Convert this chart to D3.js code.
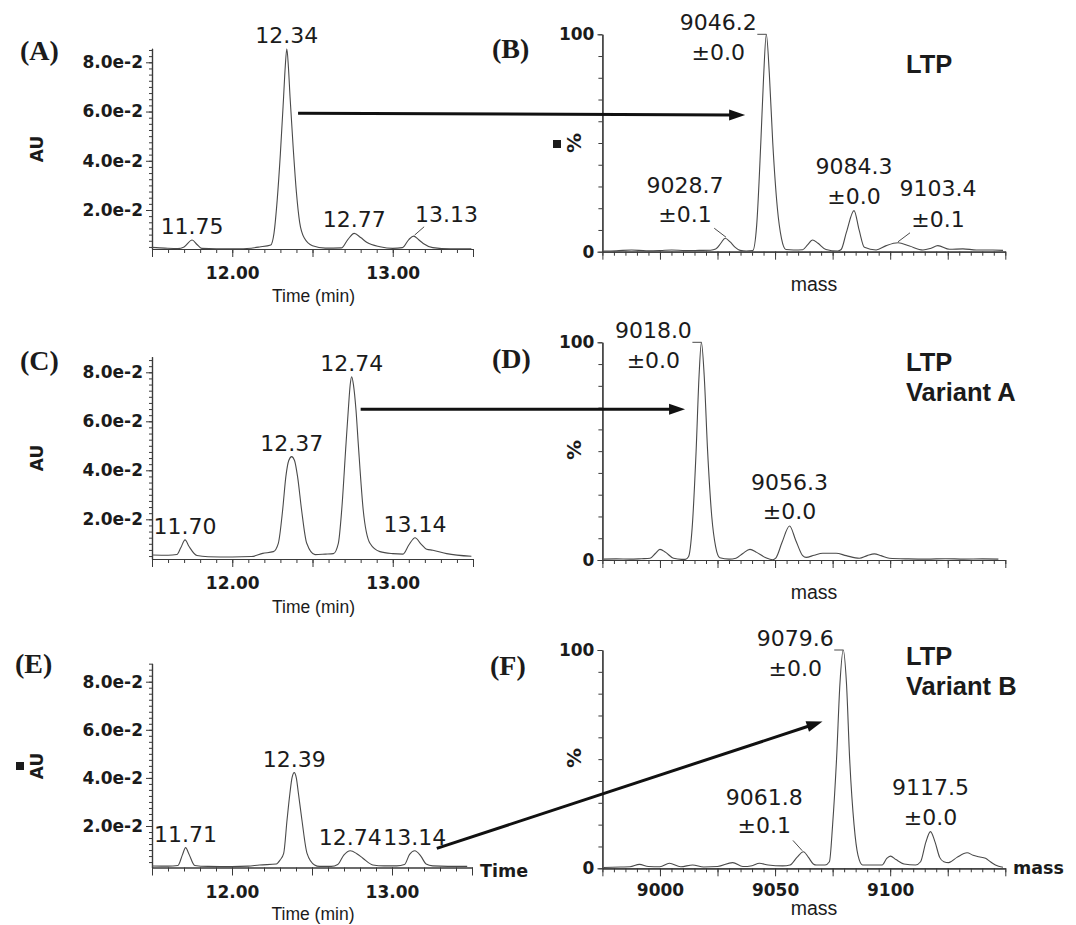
<!DOCTYPE html>
<html>
<head>
<meta charset="utf-8">
<script src="https://cdn.jsdelivr.net/npm/d3@7"></script>
<style>
body { margin: 0; background: #fff; }
svg { display: block; }
</style>
</head>
<body>
<svg id="fig"></svg>
<script>
// ---- data ----
const timeDomain = [11.5, 13.5];
const timeMajorTicks = [11.5, 12, 12.5, 13, 13.5];
const timeTickLabels = [12, 13];
const auTicks = [0.02, 0.04, 0.06, 0.08];

// chromatograms: [time (min), AU]
const traceA = [[11.50,0.0048],[11.58,0.0045],[11.66,0.0043],[11.70,0.0050],[11.75,0.0078],[11.78,0.0060],[11.81,0.0044],[11.90,0.0042],[12.05,0.0042],[12.17,0.0050],[12.24,0.0058],[12.26,0.0105],[12.28,0.024],[12.30,0.043],[12.32,0.066],[12.33,0.078],[12.34,0.0855],[12.35,0.078],[12.36,0.066],[12.38,0.045],[12.40,0.027],[12.42,0.015],[12.45,0.0085],[12.50,0.0055],[12.58,0.0045],[12.68,0.0046],[12.72,0.0080],[12.76,0.0105],[12.80,0.0088],[12.84,0.0068],[12.92,0.0051],[13.00,0.0044],[13.06,0.0047],[13.10,0.0080],[13.13,0.0094],[13.16,0.0080],[13.19,0.0064],[13.25,0.0047],[13.36,0.0042],[13.49,0.0042]];
const traceC = [[11.50,0.0054],[11.60,0.0053],[11.655,0.0056],[11.68,0.0085],[11.706,0.0116],[11.73,0.0090],[11.78,0.0052],[11.85,0.0047],[12.00,0.0046],[12.12,0.0048],[12.19,0.0061],[12.256,0.0068],[12.287,0.0102],[12.314,0.0238],[12.334,0.0374],[12.352,0.0440],[12.37,0.0456],[12.388,0.0440],[12.407,0.0374],[12.432,0.0238],[12.464,0.0102],[12.516,0.0056],[12.58,0.0058],[12.63,0.0060],[12.661,0.0102],[12.682,0.0238],[12.709,0.051],[12.723,0.0646],[12.735,0.075],[12.744,0.0782],[12.755,0.075],[12.771,0.0646],[12.785,0.051],[12.816,0.0238],[12.858,0.0102],[12.92,0.0068],[13.00,0.0060],[13.064,0.0058],[13.10,0.0095],[13.139,0.0125],[13.175,0.0100],[13.211,0.0078],[13.25,0.0074],[13.336,0.0060],[13.49,0.0049]];
const traceE = [[11.50,0.0034],[11.60,0.0033],[11.662,0.0036],[11.69,0.0080],[11.71,0.0110],[11.73,0.0085],[11.767,0.0036],[11.85,0.0032],[12.00,0.0031],[12.10,0.0033],[12.172,0.0038],[12.277,0.0042],[12.30,0.0058],[12.323,0.0086],[12.344,0.0225],[12.362,0.0336],[12.375,0.0400],[12.389,0.0422],[12.402,0.0400],[12.415,0.0336],[12.437,0.0225],[12.469,0.0086],[12.516,0.0038],[12.547,0.0032],[12.62,0.0032],[12.661,0.0040],[12.70,0.0080],[12.739,0.0097],[12.78,0.0085],[12.818,0.0066],[12.880,0.0038],[12.95,0.0034],[13.03,0.0034],[13.078,0.0040],[13.11,0.0082],[13.142,0.0097],[13.18,0.0075],[13.213,0.0042],[13.255,0.0034],[13.35,0.0032],[13.47,0.0032]];

const peaksA = [{label:"11.75",t:11.75,au:0.0078},{label:"12.34",t:12.34,au:0.0855},{label:"12.77",t:12.76,au:0.0105},{label:"13.13",t:13.13,au:0.0094}];
const peaksC = [{label:"11.70",t:11.706,au:0.0116},{label:"12.37",t:12.37,au:0.0456},{label:"12.74",t:12.744,au:0.0782},{label:"13.14",t:13.139,au:0.0125}];
const peaksE = [{label:"11.71",t:11.71,au:0.0110},{label:"12.39",t:12.389,au:0.0422},{label:"12.74",t:12.739,au:0.0097},{label:"13.14",t:13.142,au:0.0097}];

// deconvoluted spectra: [mass, %]
const massDomain = [8975, 9150];
const massTickLabels = [9000, 9050, 9100];
const pctTickLabels = [0, 100];
const spectrumB = [[8975.5,0.3],[8981,0.4],[8987.7,0.8],[8994,0.4],[9000,0.5],[9005.1,0.8],[9011,0.5],[9017,0.6],[9022,0.7],[9024.2,1.2],[9026.5,4],[9028.3,6.2],[9030.5,4.5],[9032.7,2],[9034.8,0.6],[9037.5,0.3],[9040.3,0.5],[9042,12],[9043.8,50],[9045,80],[9046.2,100],[9047.5,82],[9049,50],[9051,20],[9052.8,6],[9054.7,1],[9058,0.8],[9062,0.9],[9064,3],[9066.3,5.4],[9068.5,4],[9072.1,1],[9077.2,0.3],[9078.7,1],[9081,9],[9084.3,18.9],[9086.5,10],[9088.8,2],[9093.9,0.8],[9098.3,2.8],[9103.4,4.1],[9108.4,2.6],[9114.2,0.8],[9117.5,1.5],[9120.7,2.8],[9125.8,1.1],[9131.6,1.3],[9137.4,0.8],[9144.6,0.8],[9149,0.6]];
const spectrumD = [[8975.5,0.4],[8981,0.5],[8987,0.4],[8992,0.6],[8995.7,0.8],[8998,3],[9000,4.9],[9002.5,3.5],[9005.9,0.8],[9009.4,0.3],[9011,0.3],[9012.4,1.5],[9014,15],[9015.7,50],[9017,85],[9018,100],[9019.2,85],[9020.7,50],[9022.5,20],[9024.2,6],[9026,1],[9030,0.4],[9033,0.8],[9036,3],[9039.1,4.9],[9042,3.5],[9046,1],[9048.9,0.1],[9050.4,1],[9053,8],[9056.3,15.6],[9059,9],[9062,2],[9063.5,1.2],[9067,2.2],[9070.7,3.1],[9076.5,3.1],[9080.9,2],[9086.6,0.8],[9090,2],[9093.1,2.8],[9096,2],[9099.6,0.8],[9108,0.5],[9116,0.4],[9124,0.6],[9132,0.4],[9140,0.5],[9147,0.4]];
const spectrumF = [[8975.5,0.4],[8983,0.6],[8987,0.7],[8991.1,1.8],[8995,0.8],[9000,0.7],[9004.1,2.3],[9009,0.7],[9014.2,1.5],[9019,0.6],[9025,0.8],[9031.6,2.6],[9036,0.8],[9040,1.2],[9043.2,2.3],[9047,1.5],[9053.3,1.1],[9056.5,1.5],[9059.5,5],[9062.3,7.6],[9064.5,5],[9066.6,2],[9068,1.5],[9071.7,1.5],[9073.6,3],[9075,20],[9076.7,50],[9078.2,85],[9079.6,100],[9081,85],[9082.4,50],[9084.3,20],[9086,6],[9088,1.5],[9092,1.5],[9096.5,1.5],[9098.5,4.5],[9100.1,5.6],[9102.5,4],[9106,2],[9111,1.5],[9113.2,3],[9115.5,12],[9117.5,16.8],[9119.5,12],[9121.5,5],[9123.3,3],[9125.4,2.6],[9129,5],[9133.4,7.1],[9136,6],[9138.5,5.3],[9141.4,4.6],[9143.5,3],[9145.7,1.5],[9149,0.5]];

const massPeaksB = [{mass:"9046.2",err:"±0.0",m:9046.2,pct:100},{mass:"9028.7",err:"±0.1",m:9028.7,pct:6.2},{mass:"9084.3",err:"±0.0",m:9084.3,pct:18.9},{mass:"9103.4",err:"±0.1",m:9103.4,pct:4.1}];
const massPeaksD = [{mass:"9018.0",err:"±0.0",m:9018,pct:100},{mass:"9056.3",err:"±0.0",m:9056.3,pct:15.6}];
const massPeaksF = [{mass:"9079.6",err:"±0.0",m:9079.6,pct:100},{mass:"9061.8",err:"±0.1",m:9061.8,pct:7.6},{mass:"9117.5",err:"±0.0",m:9117.5,pct:16.8}];

const speciesB = ["LTP"];
const speciesD = ["LTP", "Variant A"];
const speciesF = ["LTP", "Variant B"];

// ---- layout ----
const W = 1076, H = 925;
const INK = "#1b1b1b";
const AXIS = "#3a3a3a";
const TRACE = "#4a4a4a";

const svg = d3.select("#fig").attr("width", W).attr("height", H);
svg.append("rect").attr("width", W).attr("height", H).attr("fill", "#fff");

const line = d3.line().curve(d3.curveMonotoneX);

// per-label nudges (pixels)
const chromLabelNudge = { "13.13": { dx: 33, dy: -14, lead: [10.5, -9.3] } };
const massLabelNudge = {
  "9028.7": { dx: -41, my: -45.6, ey: -16.6, lead: [-11.8, -10] },
  "9061.8": { dx: -38, my: -47, ey: -18.7, lead: [-9.3, -11.3] },
  "9103.4": { dx: 40, my: -46.3, ey: -15.7, lead: [12, -10] }
};

function styleAxis(sel, font) {
  sel.select(".domain").attr("stroke", AXIS).attr("stroke-width", 1.2);
  sel.selectAll(".tick line").attr("stroke", AXIS).attr("stroke-width", 1);
  sel.selectAll(".tick text").attr("fill", INK).attr("font-family", "DejaVu Sans")
    .attr("font-weight", "bold").attr("font-size", font);
}

function drawChrom(p) {
  const g = svg.append("g");
  const x = d3.scaleLinear().domain(timeDomain).range([p.x0, p.x1]);
  const yRef = d3.scaleLinear().domain([0.02, 0.08]).range([p.y02, p.y08]);
  const y = d3.scaleLinear().domain([yRef.invert(p.yBot), yRef.invert(p.yTop)]).range([p.yBot, p.yTop]);

  // x axis
  g.append("g").attr("transform", `translate(0,${p.yBot})`)
    .call(d3.axisBottom(x).tickValues(d3.range(115, 136).map(v => v / 10)).tickSize(4).tickSizeOuter(0).tickFormat(""))
    .call(s => styleAxis(s, 17));
  g.append("g").attr("transform", `translate(0,${p.yBot})`)
    .call(d3.axisBottom(x).tickValues(timeMajorTicks).tickSize(8).tickSizeOuter(0).tickPadding(10)
      .tickFormat(d => timeTickLabels.includes(d) ? d.toFixed(2) : ""))
    .call(s => styleAxis(s, 17));

  // y axis
  const [lo, hi] = y.domain();
  g.append("g").attr("transform", `translate(${p.x0},0)`)
    .call(d3.axisLeft(y).tickValues(d3.range(Math.ceil(lo / 0.0025) * 0.0025, hi, 0.0025)).tickSize(3).tickSizeOuter(0).tickFormat(""))
    .call(s => styleAxis(s, 17));
  g.append("g").attr("transform", `translate(${p.x0},0)`)
    .call(d3.axisLeft(y).tickValues(auTicks).tickSize(6).tickSizeOuter(0).tickPadding(3)
      .tickFormat(d => (d * 100).toFixed(1) + "e-2"))
    .call(s => styleAxis(s, 17));

  // trace
  g.append("path").datum(p.trace)
    .attr("d", line.x(d => x(d[0])).y(d => y(d[1])))
    .attr("fill", "none").attr("stroke", TRACE).attr("stroke-width", 1.1);

  // peak labels
  p.peaks.forEach(pk => {
    const n = chromLabelNudge[pk.label] && p.id === "A" ? chromLabelNudge[pk.label] : { dx: 0, dy: -6 };
    const px = x(pk.t), py = y(pk.au);
    g.append("text").attr("x", px + n.dx).attr("y", py + n.dy)
      .attr("text-anchor", "middle").attr("font-family", "DejaVu Sans").attr("font-size", 22)
      .attr("fill", INK).text(pk.label);
    if (n.lead) {
      g.append("line").attr("x1", px + n.lead[0]).attr("y1", py + n.lead[1])
        .attr("x2", px + 1).attr("y2", py - 1).attr("stroke", TRACE).attr("stroke-width", 1);
    }
  });

  // titles
  g.append("text").attr("x", p.letter[0]).attr("y", p.letter[1])
    .attr("font-family", "Liberation Serif").attr("font-weight", "bold").attr("font-size", 28)
    .attr("fill", INK).text(`(${p.id})`);
  g.append("text").attr("transform", `translate(${p.x0 - 109},${p.auMid}) rotate(-90)`)
    .attr("text-anchor", "middle").attr("font-family", "DejaVu Sans").attr("font-weight", "bold")
    .attr("font-size", 17).attr("fill", INK).text("AU");
  g.append("text").attr("x", (p.x0 + p.x1) / 2 + 1).attr("y", p.titleY)
    .attr("text-anchor", "middle").attr("font-family", "Liberation Sans").attr("font-size", 17.5)
    .attr("fill", INK).text("Time (min)");
  return { x, y };
}

function drawSpec(p) {
  const g = svg.append("g");
  const x = d3.scaleLinear().domain(massDomain).range([p.x0, p.x1]);
  const y = d3.scaleLinear().domain([0, 100]).range([p.yBot, p.yTop]);

  g.append("g").attr("transform", `translate(0,${p.yBot})`)
    .call(d3.axisBottom(x).tickValues(d3.range(8975, 9151, 5)).tickSize(4).tickSizeOuter(0).tickFormat(""))
    .call(s => styleAxis(s, 17));
  g.append("g").attr("transform", `translate(0,${p.yBot})`)
    .call(d3.axisBottom(x).tickValues(d3.range(8975, 9151, 25)).tickSize(8).tickSizeOuter(0).tickPadding(8)
      .tickFormat(d => p.tickLabels && massTickLabels.includes(d) ? d : ""))
    .call(s => styleAxis(s, 17));
  g.append("g").attr("transform", `translate(${p.x0},0)`)
    .call(d3.axisLeft(y).tickValues(d3.range(0, 101, 10)).tickSize(4).tickSizeOuter(0).tickFormat(""))
    .call(s => styleAxis(s, 17));
  g.append("g").attr("transform", `translate(${p.x0},0)`)
    .call(d3.axisLeft(y).tickValues(pctTickLabels).tickSize(5).tickSizeOuter(0).tickPadding(3))
    .call(s => styleAxis(s, 17));

  g.append("path").datum(p.trace)
    .attr("d", line.x(d => x(d[0])).y(d => y(d[1])))
    .attr("fill", "none").attr("stroke", TRACE).attr("stroke-width", 1.1);

  p.peaks.forEach(pk => {
    const px = x(pk.m), py = y(pk.pct);
    let n;
    if (pk.pct === 100) n = { dx: -48, my: -4.5, ey: 26, lead: null, flat: true };
    else n = massLabelNudge[pk.mass] || { dx: 0, my: -36.5, ey: -7 };
    [[pk.mass, n.my], [pk.err, n.ey]].forEach(([t, dy]) => {
      g.append("text").attr("x", px + n.dx).attr("y", py + dy).attr("text-anchor", "middle")
        .attr("font-family", "DejaVu Sans").attr("font-size", 22).attr("fill", INK).text(t);
    });
    if (n.flat) {
      g.append("line").attr("x1", px - 9).attr("y1", py).attr("x2", px).attr("y2", py)
        .attr("stroke", TRACE).attr("stroke-width", 1);
    } else if (n.lead) {
      g.append("line").attr("x1", px + n.lead[0]).attr("y1", py + n.lead[1]).attr("x2", px).attr("y2", py - 1)
        .attr("stroke", TRACE).attr("stroke-width", 1);
    }
  });

  g.append("text").attr("x", p.letter[0]).attr("y", p.letter[1])
    .attr("font-family", "Liberation Serif").attr("font-weight", "bold").attr("font-size", 28)
    .attr("fill", INK).text(`(${p.id})`);
  g.append("text").attr("transform", `translate(${p.x0 - 21},${p.pctMid}) rotate(-90)`)
    .attr("text-anchor", "middle").attr("font-family", "DejaVu Sans").attr("font-weight", "bold")
    .attr("font-size", 20).attr("fill", INK).text("%");
  g.append("text").attr("x", 814).attr("y", p.titleY).attr("text-anchor", "middle")
    .attr("font-family", "Liberation Sans").attr("font-size", 19.5).attr("fill", INK).text("mass");
  p.species.forEach((s, i) => {
    g.append("text").attr("x", 906).attr("y", p.speciesY + i * 30)
      .attr("font-family", "Liberation Sans").attr("font-weight", "bold").attr("font-size", 25.5)
      .attr("fill", INK).text(s);
  });
  return { x, y };
}

const panels = {};
panels.A = drawChrom({ id: "A", trace: traceA, peaks: peaksA, x0: 152, x1: 473, yBot: 249, yTop: 48.3, y02: 210, y08: 62.3, letter: [20, 60], auMid: 149, titleY: 302 });
panels.C = drawChrom({ id: "C", trace: traceC, peaks: peaksC, x0: 152, x1: 473, yBot: 559, yTop: 356.7, y02: 519.3, y08: 372.3, letter: [20, 370], auMid: 458, titleY: 613 });
panels.E = drawChrom({ id: "E", trace: traceE, peaks: peaksE, x0: 152, x1: 472, yBot: 867.5, yTop: 663.3, y02: 826, y08: 681.7, letter: [15, 673], auMid: 766, titleY: 920 });
panels.B = drawSpec({ id: "B", trace: spectrumB, peaks: massPeaksB, species: speciesB, x0: 602.4, x1: 1005.3, yBot: 251.7, yTop: 34.3, letter: [492, 58], pctMid: 143, titleY: 291, speciesY: 73 });
panels.D = drawSpec({ id: "D", trace: spectrumD, peaks: massPeaksD, species: speciesD, x0: 602.4, x1: 1005.3, yBot: 560, yTop: 342.3, letter: [492, 368], pctMid: 450, titleY: 599, speciesY: 371 });
panels.F = drawSpec({ id: "F", trace: spectrumF, peaks: massPeaksF, species: speciesF, x0: 602.4, x1: 1005.3, yBot: 868.3, yTop: 650, letter: [490, 675], pctMid: 758, titleY: 915, speciesY: 665, tickLabels: true });

// bold end-of-axis names on the bottom row
svg.append("text").attr("x", 480).attr("y", 877).attr("font-family", "DejaVu Sans").attr("font-weight", "bold")
  .attr("font-size", 17.5).attr("fill", INK).text("Time");
svg.append("text").attr("x", 1013).attr("y", 874).attr("font-family", "DejaVu Sans").attr("font-weight", "bold")
  .attr("font-size", 17.5).attr("fill", INK).text("mass");

// stray square marks next to two axis titles
[[553, 140], [16, 762]].forEach(([sx, sy]) => {
  svg.append("rect").attr("x", sx).attr("y", sy).attr("width", 8).attr("height", 8).attr("fill", INK);
});

// arrows from chromatogram peak to its spectrum (anchored in data coordinates)
const arrows = [
  { from: ["A", 12.41, 0.0593], to: ["B", 9037.0, 62.9] },
  { from: ["C", 12.80, 0.0649], to: ["D", 9010.9, 69.2] },
  { from: ["E", 13.28, 0.0107], to: ["F", 9070.6, 67.2] }
];
arrows.forEach(a => {
  const s = panels[a.from[0]], t = panels[a.to[0]];
  const x1 = s.x(a.from[1]), y1 = s.y(a.from[2]);
  const x2 = t.x(a.to[1]), y2 = t.y(a.to[2]);
  const len = Math.hypot(x2 - x1, y2 - y1), ux = (x2 - x1) / len, uy = (y2 - y1) / len;
  const head = 16, half = 5.5;
  const bx = x2 - ux * head, by = y2 - uy * head;
  svg.append("line").attr("x1", x1).attr("y1", y1).attr("x2", bx + ux).attr("y2", by + uy)
    .attr("stroke", "#111").attr("stroke-width", 3);
  svg.append("path")
    .attr("d", `M${x2},${y2}L${bx - uy * half},${by + ux * half}L${bx + uy * half},${by - ux * half}Z`)
    .attr("fill", "#111");
});
</script>
</body>
</html>
